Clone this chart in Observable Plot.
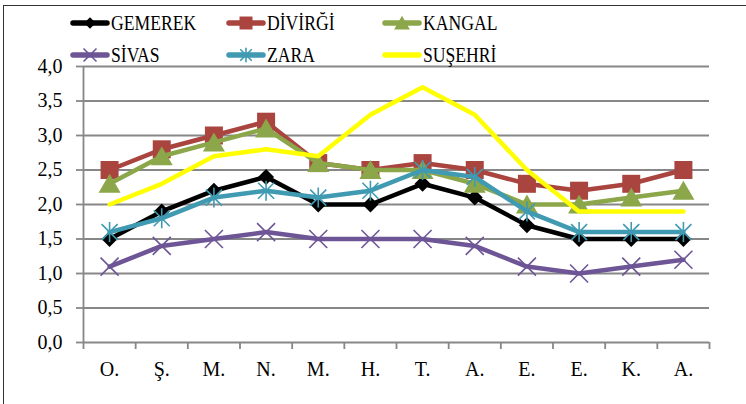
<!DOCTYPE html>
<html>
<head>
<meta charset="utf-8">
<script src="https://cdn.jsdelivr.net/npm/d3@7"></script>
<script src="https://cdn.jsdelivr.net/npm/@observablehq/plot@0.6"></script>
<style>
  html, body { margin: 0; padding: 0; background: #fff; }
  #wrap { position: relative; width: 746px; height: 404px; overflow: hidden; background: #fff; }
  #frame { position: absolute; left: 3px; top: 5px; width: 760px; height: 420px; border-left: 1.5px solid #333; border-top: 1.5px solid #333; box-sizing: border-box; pointer-events: none; }
  #chart { position: absolute; left: 0; top: 0; }
  #legend { position: absolute; left: 0; top: 0; }
</style>
</head>
<body>
<div id="wrap">
  <div id="chart"></div>
  <svg id="legend" width="746" height="75"></svg>
  <div id="frame"></div>
</div>
<script>
// ---- data ----
const months = ["O.", "Ş.", "M.", "N.", "M.", "H.", "T.", "A.", "E.", "E.", "K.", "A."];
const seriesNames = ["GEMEREK", "DİVİRĞİ", "KANGAL", "SİVAS", "ZARA", "SUŞEHRİ"];
const gemerek = [1.5, 1.9, 2.2, 2.4, 2.0, 2.0, 2.3, 2.1, 1.7, 1.5, 1.5, 1.5];
const divrigi = [2.5, 2.8, 3.0, 3.2, 2.6, 2.5, 2.6, 2.5, 2.3, 2.2, 2.3, 2.5];
const kangal  = [2.3, 2.7, 2.9, 3.1, 2.6, 2.5, 2.5, 2.3, 2.0, 2.0, 2.1, 2.2];
const sivas   = [1.1, 1.4, 1.5, 1.6, 1.5, 1.5, 1.5, 1.4, 1.1, 1.0, 1.1, 1.2];
const zara    = [1.6, 1.8, 2.1, 2.2, 2.1, 2.2, 2.5, 2.4, 1.9, 1.6, 1.6, 1.6];
const susehri = [2.0, 2.3, 2.7, 2.8, 2.7, 3.3, 3.7, 3.3, 2.5, 1.9, 1.9, 1.9];
const yTicks = [0, 0.5, 1, 1.5, 2, 2.5, 3, 3.5, 4];

// ---- styling ----
const colors = ["#000000", "#A9443F", "#8CA64A", "#6E5596", "#3F9AB2", "#FFFF00"];
const grid = "#878787";

// custom marker shapes (unit radius derived from size = r*r*PI)
const unit = size => Math.sqrt(size / Math.PI);
const symDiamond = { draw(c, s) { const r = unit(s); c.moveTo(0, -r); c.lineTo(r, 0); c.lineTo(0, r); c.lineTo(-r, 0); c.closePath(); } };
const symSquare = { draw(c, s) { const r = unit(s); c.rect(-r, -r, 2 * r, 2 * r); } };
const symTriangle = { draw(c, s) { const r = unit(s); c.moveTo(0, -r); c.lineTo(r * 1.1, r * 0.9); c.lineTo(-r * 1.1, r * 0.9); c.closePath(); } };
const symTimes = { draw(c, s) { const r = unit(s); c.moveTo(-r, -r); c.lineTo(r, r); c.moveTo(r, -r); c.lineTo(-r, r); } };
const symAster = { draw(c, s) { const r = unit(s); const d = r * 0.8; c.moveTo(0, -r); c.lineTo(0, r); c.moveTo(-d, -d); c.lineTo(d, d); c.moveTo(d, -d); c.lineTo(-d, d); } };

const seriesVals = [gemerek, divrigi, kangal, sivas, zara, susehri];
const markers = [
  { symbol: symDiamond, r: 8, filled: true },
  { symbol: symSquare, r: 9, filled: true },
  { symbol: symTriangle, r: 10, filled: true },
  { symbol: symTimes, r: 9, filled: false },
  { symbol: symAster, r: 10, filled: false },
  null
];

const marks = [
  Plot.ruleY(yTicks, { stroke: grid, strokeWidth: 1.8 }),
  Plot.axisY({ ticks: yTicks, tickSize: 7, tickPadding: 14, stroke: grid, strokeWidth: 1.8, label: null,
    tickFormat: d => d.toFixed(1).replace(".", ","), fontSize: 20 }),
  Plot.ruleX([-0.5], { stroke: grid, strokeWidth: 1.8 }),
  Plot.axisX({ ticks: d3.range(-0.5, 12, 1), tickSize: 7, stroke: grid, strokeWidth: 1.8, tickFormat: () => "", label: null }),
  Plot.axisX({ ticks: d3.range(12), tickSize: 0, tickPadding: 19, tickFormat: i => months[i], fontSize: 20, label: null })
];

seriesVals.forEach((vals, k) => {
  const data = vals.map((v, i) => ({ i, v }));
  marks.push(Plot.line(data, { x: "i", y: "v", stroke: colors[k], strokeWidth: 4.5, strokeLinejoin: "round", strokeLinecap: "round" }));
  const m = markers[k];
  if (m) {
    marks.push(Plot.dot(data, m.filled
      ? { x: "i", y: "v", symbol: m.symbol, r: m.r, fill: colors[k], stroke: "none" }
      : { x: "i", y: "v", symbol: m.symbol, r: m.r, fill: "none", stroke: colors[k], strokeWidth: 1.6 }));
  }
});

const chart = Plot.plot({
  width: 746,
  height: 404,
  marginLeft: 83,
  marginRight: 37,
  marginTop: 66,
  marginBottom: 62,
  x: { domain: [-0.5, 11.5], label: null },
  y: { domain: [0, 4], label: null },
  style: { fontFamily: "Liberation Serif", fontSize: "20px", color: "#000", background: "transparent", overflow: "visible" },
  marks
});
document.getElementById("chart").appendChild(chart);

// ---- legend ----
const legend = d3.select("#legend");
const colX = [70, 226, 382];
const rowY = [23, 55];
seriesNames.forEach((name, k) => {
  const col = k % 3, row = Math.floor(k / 3);
  const g = legend.append("g").attr("transform", `translate(${colX[col]},${rowY[row]})`);
  g.append("line").attr("x1", 3).attr("x2", 37).attr("y1", 0).attr("y2", 0)
    .attr("stroke", colors[k]).attr("stroke-width", 5.5).attr("stroke-linecap", "round");
  const m = markers[k];
  if (m) {
    const rr = m.r * 0.72;
    const p = g.append("path").attr("d", d3.symbol(m.symbol, rr * rr * Math.PI)()).attr("transform", "translate(20,0)");
    if (m.filled) p.attr("fill", colors[k]);
    else p.attr("fill", "none").attr("stroke", colors[k]).attr("stroke-width", 1.6);
  }
  g.append("text").attr("transform", "translate(41,7) scale(0.84,1)")
    .attr("font-family", "Liberation Serif").attr("font-size", 21).attr("fill", "#000")
    .text(name);
});
</script>
</body>
</html>
